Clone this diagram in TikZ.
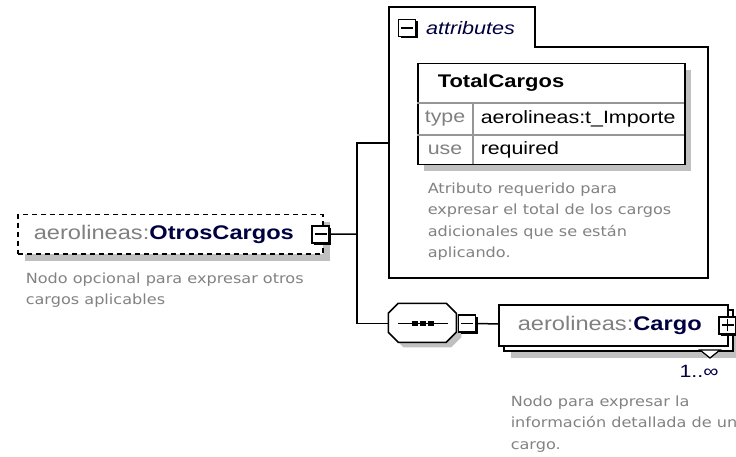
\documentclass[tikz,border=0pt]{standalone}
\usepackage{fontspec}
\setmainfont[FakeStretch=1.2]{Liberation Sans}
\newfontfamily\descfont[FakeStretch=1.15]{DejaVu Sans}
\usetikzlibrary{shadows, positioning}

\definecolor{nsgray}{RGB}{128,128,128}
\definecolor{elemname}{RGB}{0,0,64}
\definecolor{shadowgray}{RGB}{192,192,192}
\definecolor{descgray}{RGB}{130,130,130}
\definecolor{gridgray}{RGB}{150,150,150}

\tikzset{
    elembox/.style={draw, fill=white, inner ysep=0pt, align=left, text=elemname, font=\fontsize{19.7}{22}\selectfont}, % element boxes
    boxshadow/.style={drop shadow={shadow xshift=#1, shadow yshift=-#1, fill=shadowgray, opacity=1}}, % flat grey shadow
    boxshadow/.default=6pt,
    toggle/.style={draw, fill=white, line width=1.6pt, minimum size=17pt, inner sep=0pt, drop shadow={shadow xshift=2pt, shadow yshift=-2pt, fill=black, opacity=1}}, % the little +/- boxes
    collapse/.style={toggle, path picture={\draw[line width=1.6pt] ([xshift=-6pt]path picture bounding box.center) -- ([xshift=6pt]path picture bounding box.center);}},
    expand/.style={toggle, path picture={\draw[line width=1.6pt] ([xshift=-6pt]path picture bounding box.center) -- ([xshift=6pt]path picture bounding box.center) ([yshift=-6pt]path picture bounding box.center) -- ([yshift=6pt]path picture bounding box.center);}},
    seqbox/.style={minimum width=68pt, minimum height=39pt, inner sep=0pt}, % sequence compositor (outline drawn below)
    cell/.style={inner sep=0pt, font=\fontsize{17.8}{20}\selectfont}, % table texts
    desc/.style={font=\descfont\fontsize{14}{21.5}\selectfont, text=descgray, align=left, anchor=north west, inner sep=0pt}, % annotations
}

\begin{document}
\begin{tikzpicture}[x=1pt, y=-1pt, line width=1.5pt]
\useasboundingbox (0,0) rectangle (736,457);

% root element
\node[elembox, dashed, dash pattern=on 5pt off 4pt, boxshadow=7pt, anchor=north west, minimum width=305pt, minimum height=39pt, text width=273pt, inner xsep=16pt] (otros) at (17,214) {\textcolor{nsgray}{aerolineas:}\textbf{OtrosCargos}};
\node[collapse] (otrosminus) at ([xshift=-3pt]otros.east) {};
\node[desc] (otrosdesc) at (25,272) {Nodo opcional para expresar otros\\cargos aplicables};
\coordinate (fork) at (357,234);

% attributes
\draw[fill=white] (389,278) -- (389,7) -- (535,7) -- (535,47) -- (708,47) -- (708,278) -- cycle;
\coordinate (attrs) at (389,143);
\node[collapse] (attrsminus) at (407,28) {};
\node[right=9pt of attrsminus, inner sep=0pt, font=\itshape\fontsize{18}{20}\selectfont, text=elemname] (attrslabel) {attributes};
\node[draw, fill=white, boxshadow, anchor=north west, minimum width=267pt, minimum height=101pt, inner sep=0pt] (tbl) at (417,63) {};
\draw[gridgray, line width=1.2pt] (417,103) -- (684,103) (417,135) -- (684,135) (473,103) -- (473,164);
\node[anchor=west, inner sep=0pt, font=\bfseries\fontsize{18.3}{20}\selectfont] (attrname) at (437,83) {TotalCargos};
\node[cell, text=nsgray] (typekey) at (445,119) {type};
\node[cell, anchor=west] (typeval) at (480,119) {aerolineas:t\_Importe};
\node[cell, text=nsgray] (usekey) at (445,150) {use};
\node[cell, anchor=west] (useval) at (480,150) {required};
\node[desc] (attrsdesc) at (427,182) {Atributo requerido para\\expresar el total de los cargos\\adicionales que se están\\aplicando.};

% sequence with child
\node[seqbox] (seq) at (423,323.5) {};
\fill[shadowgray] ([xshift=15pt, yshift=-5pt]seq.north west) -- ++(48pt,0) -- ++(10pt,-10pt) -- ++(0,-19pt) -- ++(-10pt,-10pt) -- ++(-48pt,0) -- ++(-10pt,10pt) -- ++(0,19pt) -- cycle;
\draw[fill=white] ([xshift=10pt]seq.north west) -- ++(48pt,0) -- ++(10pt,-10pt) -- ++(0,-19pt) -- ++(-10pt,-10pt) -- ++(-48pt,0) -- ++(-10pt,10pt) -- ++(0,19pt) -- cycle;
\draw ([xshift=-25pt]seq.center) -- ([xshift=25pt]seq.center);
\foreach \dx in {-8,0,8}
    \fill ([xshift=\dx pt]seq.center) +(-3pt,-2.5pt) rectangle +(3pt,2.5pt);
\node[collapse, right=0pt of seq] (seqminus) {};
\node[elembox, drop shadow={shadow xshift=12pt, shadow yshift=-12pt, fill=shadowgray, opacity=1}, copy shadow={shadow xshift=5pt, shadow yshift=-5pt, draw=black, fill=white}, anchor=north west, minimum width=229pt, minimum height=41pt, text width=191pt, inner xsep=19pt] (cargo) at (498,304) {\textcolor{nsgray}{aerolineas:}\textbf{Cargo}};
\node[expand] (cargoplus) at ([xshift=-1pt]cargo.east) {};
\draw[fill=white, line width=1.2pt] (700,350) -- (720,350) -- (710,358) -- cycle;
\node[cell, text=elemname] (card) at (699,371) {1..∞};
\node[desc] (cargodesc) at (510,395) {Nodo para expresar la\\información detallada de un\\cargo.};

% connectors
\draw (otrosminus) -- (fork);
\draw (attrs) -| (fork) |- (seq);
\draw (seqminus) -- (cargo);
\end{tikzpicture}
\end{document}
